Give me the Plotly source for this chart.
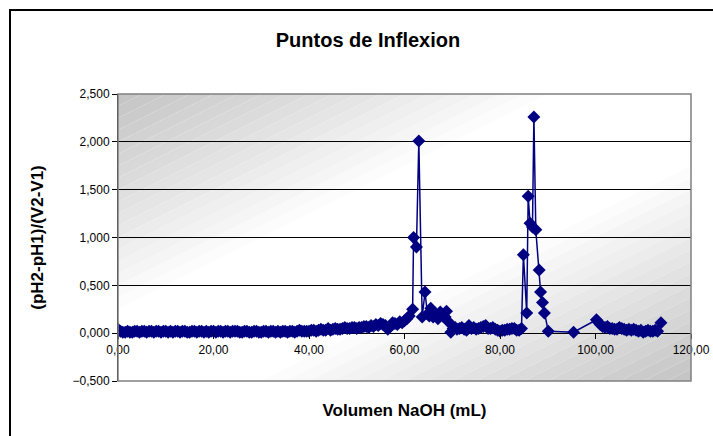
import math
import plotly.graph_objects as go

# ---------------- data ----------------
vol_ml = [
    0, 0.5, 1, 1.5, 2, 2.5, 3, 3.5, 4, 4.5, 5, 5.5, 6, 6.5, 7, 7.5, 8, 8.5, 9, 9.5,
    10, 10.5, 11, 11.5, 12, 12.5, 13, 13.5, 14, 14.5, 15, 15.5, 16, 16.5, 17, 17.5,
    18, 18.5, 19, 19.5, 20, 20.5, 21, 21.5, 22, 22.5, 23, 23.5, 24, 24.5, 25, 25.5,
    26, 26.5, 27, 27.5, 28, 28.5, 29, 29.5, 30, 30.5, 31, 31.5, 32, 32.5, 33, 33.5,
    34, 34.5, 35, 35.5, 36, 36.5, 37, 37.5, 38, 38.5, 39, 39.5, 40, 40.5, 41, 41.5,
    42, 42.5, 43, 43.5, 44, 44.5, 45, 45.5, 46, 46.5, 47, 47.5, 48, 48.5, 49, 49.5,
    50, 50.5, 51, 51.5, 52, 52.5, 53, 53.5, 54, 54.5, 55, 55.5, 56, 56.5, 57, 57.5,
    58, 58.5, 59, 59.5, 60,
    60.5, 61, 61.7, 61.9, 62.5, 63.0, 63.7, 64.3, 64.8, 65.2, 65.5, 66, 66.5, 67,
    67.5, 68, 68.5, 68.8, 69.2, 69.7, 70.2, 70.6, 71, 71.5, 72, 72.5, 73, 73.5, 74,
    74.5, 75, 75.5, 76, 76.5, 77, 77.5, 78, 78.5, 79, 79.5, 80, 80.5, 81, 81.5, 82,
    82.5, 83, 83.5, 84, 84.5, 84.9, 85.6, 85.9, 86.3, 86.8, 87.1, 87.5, 88.2,
    88.5, 88.9, 89.3, 90.1, 95.4, 100.2, 100.5, 101, 101.5, 102, 102.5, 103, 103.5,
    104, 104.5, 105, 105.5, 106, 106.5, 107, 107.5, 108, 108.5, 109, 109.5, 110,
    110.5, 111, 111.5, 112, 112.5, 113, 113.7,
]
dpH_dV = [
    0.04, 0.02, 0.01, 0.01, 0.02, 0.01, 0.01, 0.02, 0.02, 0.01, 0.02, 0.02, 0.01, 0.02,
    0.02, 0.01, 0.02, 0.02, 0.01, 0.02, 0.02, 0.01, 0.02, 0.01, 0.02, 0.02, 0.01, 0.02,
    0.02, 0.01, 0.01, 0.02, 0.02, 0.01, 0.02, 0.02, 0.01, 0.02, 0.01, 0.02, 0.02, 0.01,
    0.02, 0.02, 0.01, 0.02, 0.02, 0.01, 0.02, 0.02, 0.02, 0.01, 0.01, 0.02, 0.02, 0.01,
    0.01, 0.02, 0.02, 0.01, 0.01, 0.02, 0.02, 0.01, 0.02, 0.02, 0.01, 0.02, 0.01, 0.02,
    0.02, 0.01, 0.02, 0.02, 0.01, 0.02, 0.03, 0.02, 0.02, 0.02, 0.02, 0.03, 0.03, 0.02,
    0.03, 0.04, 0.03, 0.03, 0.05, 0.03, 0.04, 0.05, 0.04, 0.04, 0.05, 0.06, 0.05, 0.05,
    0.06, 0.06, 0.05, 0.06, 0.06, 0.07, 0.07, 0.06, 0.08, 0.07, 0.09, 0.08, 0.10, 0.09,
    0.08, 0.04, 0.07, 0.11, 0.10, 0.09, 0.12, 0.11, 0.13,
    0.15, 0.18, 0.25, 1.00, 0.90, 2.01, 0.17, 0.43, 0.20, 0.18, 0.26, 0.17, 0.20,
    0.15, 0.22, 0.18, 0.17, 0.23, 0.12, 0.01, 0.05, 0.06, 0.04, 0.05, 0.06, 0.04,
    0.03, 0.08, 0.05, 0.06, 0.04, 0.05, 0.06, 0.07, 0.08, 0.05, 0.05, 0.06, 0.04,
    0.03, 0.02, 0.03, 0.03, 0.04, 0.04, 0.05, 0.05, 0.03, 0.03, 0.05, 0.82, 0.21,
    1.43, 1.15, 1.11, 2.26, 1.08, 0.66, 0.43, 0.32, 0.21, 0.02, 0.01, 0.14, 0.12,
    0.09, 0.07, 0.06, 0.07, 0.05, 0.05, 0.04, 0.04, 0.06, 0.05, 0.04, 0.03, 0.04,
    0.03, 0.04, 0.03, 0.02, 0.03, 0.01, 0.02, 0.03, 0.02, 0.02, 0.03, 0.02, 0.11,
]
x_ticks = [0, 20, 40, 60, 80, 100, 120]
y_ticks = [-0.5, 0, 0.5, 1.0, 1.5, 2.0, 2.5]

TITLE = "Puntos de Inflexion"
X_TITLE = "Volumen NaOH (mL)"
Y_TITLE = "(pH2-pH1)/(V2-V1)"

# ---------------- figure ----------------
W, H = 713, 436
L, R, T, B = 118, 22, 94, 55
pw, ph = W - L - R, H - T - B
NAVY = "#000080"
FONT = "Liberation Sans, Arial, sans-serif"

fig = go.Figure()
fig.add_trace(go.Scatter(
    x=vol_ml, y=dpH_dV, mode="lines+markers",
    line=dict(color=NAVY, width=1.5),
    marker=dict(symbol="diamond", size=10, color=NAVY),
    showlegend=False,
))

# diagonal gradient background of the plot area (gray top-left -> white -> gray bottom-right)
def clip_strip(a, b):
    pts = []
    for (u, v) in [(0, 0), (1, 0), (1, 1), (0, 1)]:
        if a - 1e-9 <= u - v <= b + 1e-9:
            pts.append((u, v))
    for d in (a, b):
        for u in (0.0, 1.0):
            v = u - d
            if 0 <= v <= 1:
                pts.append((u, v))
        for v in (0.0, 1.0):
            u = v + d
            if 0 <= u <= 1:
                pts.append((u, v))
    uniq = []
    for p in pts:
        if all(abs(p[0] - q[0]) > 1e-9 or abs(p[1] - q[1]) > 1e-9 for q in uniq):
            uniq.append(p)
    cx = sum(p[0] for p in uniq) / len(uniq)
    cy = sum(p[1] for p in uniq) / len(uniq)
    uniq.sort(key=lambda p: math.atan2(p[1] - cy, p[0] - cx))
    return uniq

N = 48
shapes = []
for i in range(N):
    a = -1 + 2 * i / N
    b = -1 + 2 * (i + 1) / N
    t = (i + 0.5) / N          # 0 at top-left corner, 1 at bottom-right
    k = 1 - abs(2 * t - 1)     # 0 at corners, 1 in middle
    g = int(round(195 + (255 - 195) * min(1.0, k * 1.3)))
    poly = clip_strip(a, b)
    if len(poly) < 3:
        continue
    path = "M " + " L ".join(f"{u:.5f},{v:.5f}" for u, v in poly) + " Z"
    shapes.append(dict(type="path", path=path, xref="paper", yref="paper",
                       fillcolor=f"rgb({g},{g},{g})", line=dict(width=0),
                       layer="below"))

# plot-area border (gray)
shapes.append(dict(type="rect", xref="paper", yref="paper", x0=0, y0=0, x1=1, y1=1,
                   line=dict(color="#808080", width=1.5), fillcolor="rgba(0,0,0,0)",
                   layer="above"))
# outer chart border (black)
shapes.append(dict(type="rect", xref="paper", yref="paper",
                   x0=(10 - L) / pw, x1=(W + 10 - L) / pw,
                   y0=(H - B - (H + 10)) / ph, y1=(H - B - 10) / ph,
                   line=dict(color="black", width=2), fillcolor="rgba(0,0,0,0)",
                   layer="above"))

y_min, y_max = -0.5, 2.5
zero_pos = (0 - y_min) / (y_max - y_min)

fig.update_layout(
    width=W, height=H,
    margin=dict(l=L, r=R, t=T, b=B, autoexpand=False),
    paper_bgcolor="white",
    plot_bgcolor="rgba(0,0,0,0)",
    separators=",.",
    font=dict(family=FONT, size=12, color="black"),
    title=dict(text=f"<b>{TITLE}</b>", x=368 / W, xanchor="center",
               y=1 - 40 / H, yanchor="middle",
               font=dict(size=20, family=FONT, color="black")),
    shapes=shapes,
    xaxis=dict(
        range=[0, 120], tickvals=x_ticks, tickformat=".2f",
        anchor="free", position=zero_pos,
        showgrid=False, zeroline=False, showline=False,
        ticks="outside", ticklen=5, tickcolor="black", tickwidth=1,
        tickfont=dict(size=12, family=FONT, color="black"),
        title=dict(text=f"<b>{X_TITLE}</b>", standoff=48,
                   font=dict(size=17, family=FONT, color="black")),
    ),
    yaxis=dict(
        range=[y_min, y_max], tickvals=y_ticks, tickformat=".3f",
        showgrid=True, gridcolor="black", gridwidth=1,
        zeroline=True, zerolinecolor="black", zerolinewidth=1,
        showline=True, linecolor="black", linewidth=1,
        ticks="outside", ticklen=5, tickcolor="black", tickwidth=1,
        tickfont=dict(size=12, family=FONT, color="black"),
        title=dict(text=f"<b>{Y_TITLE}</b>", standoff=24,
                   font=dict(size=17, family=FONT, color="black")),
    ),
)

fig.write_html("out.html")
